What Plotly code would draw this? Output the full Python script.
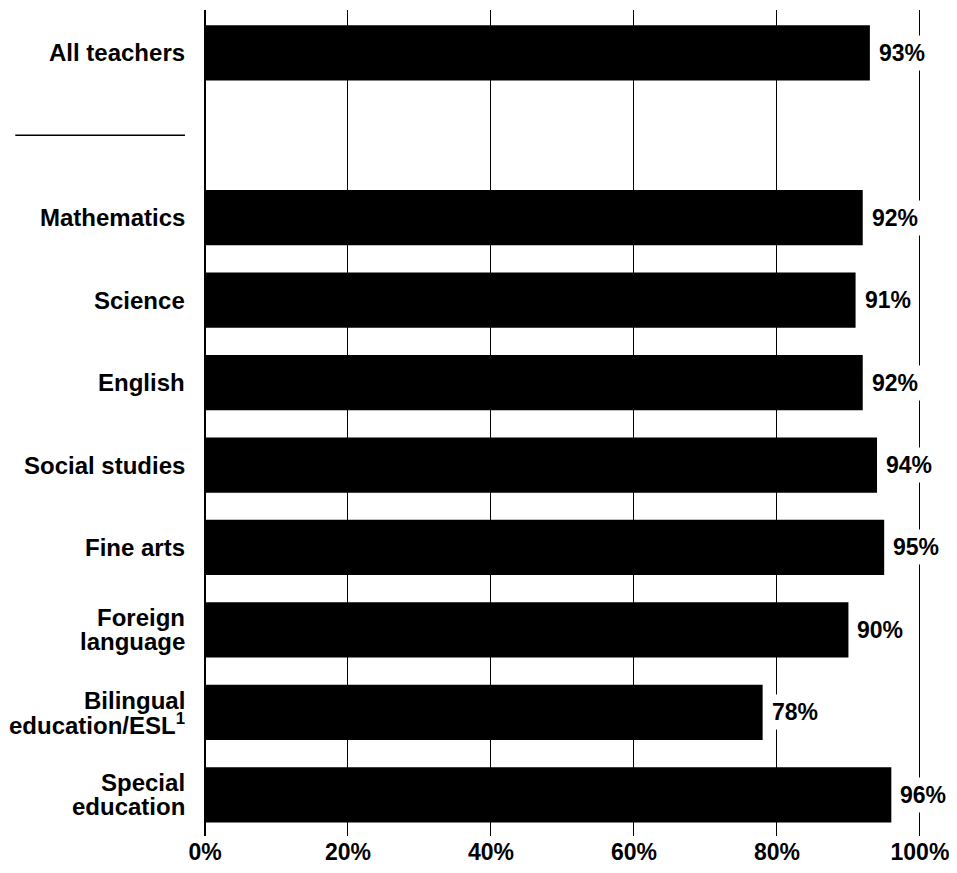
import plotly.graph_objects as go

# share of teachers, by main teaching field
categories = [
    "All teachers",
    "",
    "Mathematics",
    "Science",
    "English",
    "Social studies",
    "Fine arts",
    "Foreign<br>language",
    "Bilingual<br>education/ESL<sup>1</sup>",
    "Special<br>education",
]
values = [93, None, 92, 91, 92, 94, 95, 90, 78, 96]
x_ticks = [0, 20, 40, 60, 80, 100]
x_tick_labels = ["0%", "20%", "40%", "60%", "80%", "100%"]

FONT = "Liberation Sans, Arial, sans-serif"
slots = list(range(len(categories)))

fig = go.Figure()
fig.add_trace(go.Bar(
    x=values,
    y=slots,
    orientation="h",
    width=0.67,
    marker=dict(color="black", line=dict(width=0)),
    hoverinfo="skip",
))

# value labels (white box breaks the 100% gridline like in the print)
for s, v in zip(slots, values):
    if v is None:
        continue
    fig.add_annotation(
        x=v, y=s, xref="x", yref="y",
        text=f"<b>{v}%</b>", showarrow=False,
        xanchor="left", xshift=4,
        bgcolor="white", borderpad=4,
        font=dict(family=FONT, size=23, color="black"),
    )

# category labels, one annotation per line so lines can sit tight
line_gap = 24
for s, cat in zip(slots, categories):
    if not cat:
        continue
    lines = cat.split("<br>")
    n = len(lines)
    for i, ln in enumerate(lines):
        fig.add_annotation(
            x=0, y=s, xref="paper", yref="y",
            text=f"<b>{ln}</b>", showarrow=False,
            xanchor="right", xshift=-18,
            yshift=((n - 1) / 2 - i) * line_gap,
            font=dict(family=FONT, size=24, color="black"),
        )

# short rule separating the total from the subject rows
fig.add_shape(
    type="line", xref="paper", yref="y",
    x0=-0.265, x1=-0.028, y0=1, y1=1,
    line=dict(color="black", width=1.5),
)

# page body adds an 8px offset, so the figure is 8px smaller each way
fig.update_layout(
    width=949, height=865,
    margin=dict(l=197, r=36, t=2, b=37),
    paper_bgcolor="white", plot_bgcolor="white",
    showlegend=False,
    font=dict(family=FONT, size=23, color="black"),
    xaxis=dict(
        range=[0, 100.15], tickvals=x_ticks,
        ticktext=[f"<b>{t}</b>" for t in x_tick_labels],
        showgrid=True, gridcolor="black", gridwidth=1.3,
        zeroline=True, zerolinecolor="black", zerolinewidth=1.5,
        showline=False, ticks="",
        tickfont=dict(family=FONT, size=23, color="black"),
    ),
    yaxis=dict(
        range=[9.5, -0.52], showticklabels=False,
        showgrid=False, zeroline=False, showline=False, ticks="",
    ),
)

fig.write_html("out.html")
